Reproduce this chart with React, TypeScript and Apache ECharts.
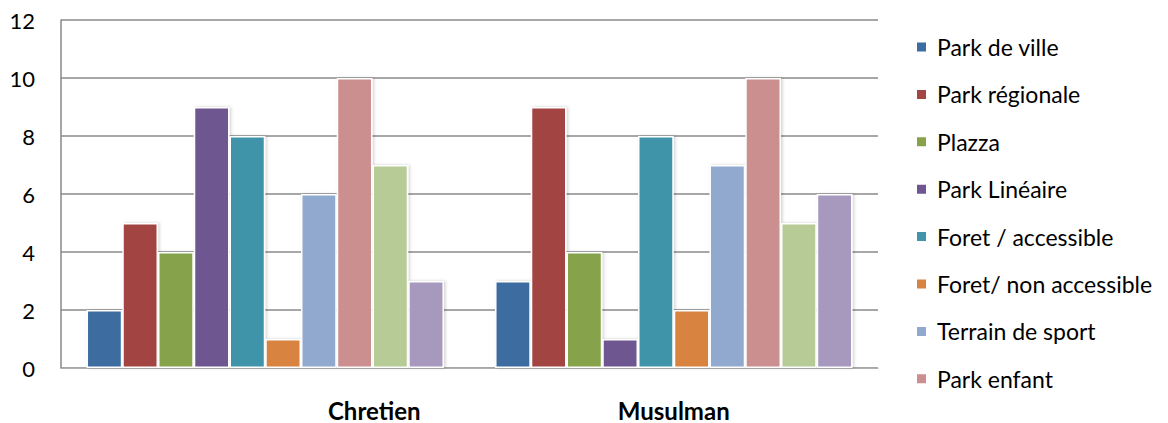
import React, { useEffect, useRef } from "react";
import * as echarts from "echarts";

const categories = ["Chretien", "Musulman"];
const seriesNames = [
  "Park de ville",
  "Park régionale",
  "Plazza",
  "Park Linéaire",
  "Foret / accessible",
  "Foret/ non accessible",
  "Terrain de sport",
  "Park enfant",
  "Série 9",
  "Série 10",
];
const chretien = [2, 5, 4, 9, 8, 1, 6, 10, 7, 3];
const musulman = [3, 9, 4, 1, 8, 2, 7, 10, 5, 6];
const legendNames = seriesNames.slice(0, 8);
const yTicks = [0, 2, 4, 6, 8, 10, 12];
const colors = [
  "#3C6DA0",
  "#A24543",
  "#86A34C",
  "#6E5790",
  "#4194A9",
  "#D88340",
  "#91A8CF",
  "#CC8F8F",
  "#B6CB95",
  "#A799BE",
];

export default function App() {
  const ref = useRef<HTMLDivElement>(null);
  useEffect(() => {
    document.body.style.margin = "0";
    const chart = echarts.init(ref.current!, null, { renderer: "svg" });
    const font = "Lato, 'Open Sans', sans-serif";
    chart.setOption({
      animation: false,
      color: colors,
      textStyle: { fontFamily: font },
      grid: { left: 61, right: 290, top: 20, bottom: 55, containLabel: false },
      legend: {
        data: legendNames,
        orient: "vertical",
        left: 915,
        top: 35,
        padding: 0,
        icon: "rect",
        itemWidth: 11,
        itemHeight: 11,
        itemGap: 23.4,
        textStyle: {
          fontSize: 23,
          lineHeight: 24,
          color: "#000",
          fontFamily: font,
          padding: [0, 0, 0, 5],
        },
      },
      xAxis: {
        type: "category",
        data: categories,
        axisLine: { lineStyle: { color: "#B0B0B0", width: 1 } },
        axisTick: { show: false },
        axisLabel: {
          margin: 30,
          formatter: (v: string) => (v === "Chretien" ? `{a|${v}}` : `{b|${v}}`),
          rich: {
            a: { fontSize: 24, fontWeight: "bold", color: "#000", padding: [0, 0, 0, 218], fontFamily: font },
            b: { fontSize: 24, fontWeight: "bold", color: "#000", fontFamily: font },
          },
        },
      },
      yAxis: {
        type: "value",
        min: yTicks[0],
        max: yTicks[yTicks.length - 1],
        interval: 2,
        axisLine: { show: true, lineStyle: { color: "#888", width: 1.5 } },
        axisTick: { show: false },
        axisLabel: { fontSize: 22, color: "#000", margin: 26, fontFamily: font },
        splitLine: { lineStyle: { color: "#8A8A8A", width: 1.5 } },
      },
      series: seriesNames.map((name, i) => ({
        name,
        type: "bar",
        data: [chretien[i], musulman[i]],
        barGap: "0%",
        barCategoryGap: "12.5%",
        itemStyle: {
          color: colors[i],
          borderColor: "#fff",
          borderWidth: 1.5,
          shadowColor: "rgba(0,0,0,0.18)",
          shadowBlur: 3,
          shadowOffsetX: 1.5,
          shadowOffsetY: 0,
        },
      })),
    });
    return () => chart.dispose();
  }, []);
  return <div ref={ref} style={{ width: 1168, height: 423 }} />;
}
